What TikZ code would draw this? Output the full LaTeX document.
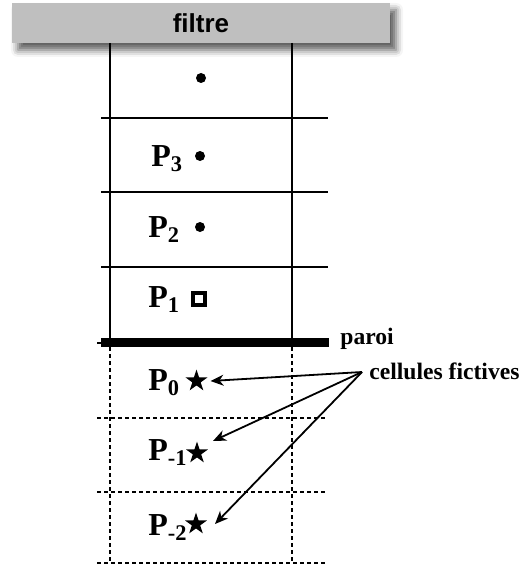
\documentclass[tikz,border=0pt]{standalone}
\usepackage{fontspec}
\setmainfont{Liberation Serif}
\newfontfamily\barfont{Liberation Sans}
\usetikzlibrary{positioning,shapes.geometric,shadows.blur,arrows.meta}

\begin{document}
\begin{tikzpicture}
	[x=0.5pt,y=-0.5pt,>={Stealth[length=6.5pt,width=5.5pt,inset=2pt]},
	bar/.style={rectangle,fill=black!25,minimum width=189pt,minimum height=20pt,inner sep=0pt,
		blur shadow={shadow xshift=3pt,shadow yshift=-3.5pt,shadow blur radius=3.5pt,shadow opacity=65}},
	cell/.style={line width=0.6pt},
	ghost/.style={line width=0.6pt,dash pattern=on 2pt off 1.5pt},
	plabel/.style={anchor=base west,inner sep=0pt,font=\fontsize{16}{18}\selectfont\bfseries},
	dot/.style={circle,fill=black,inner sep=0pt,minimum size=5pt},
	boxmark/.style={rectangle,draw,line width=1.7pt,inner sep=0pt,minimum size=6pt},
	ghoststar/.style={star,star points=5,star point ratio=2.6,fill=black,inner sep=0pt,minimum size=11.5pt},
	tag/.style={anchor=base west,inner sep=0pt,font=\fontsize{11.8}{14}\selectfont\bfseries},
	arrow/.style={->,line width=0.9pt}]
	\useasboundingbox (0,0) rectangle (523,567);

	% filter on top
	\node [bar] (filtre) at (201,23) {\barfont\bfseries\fontsize{13}{15}\selectfont filtre};

	% real cells
	\draw [cell] (110,43) -- (110,338);
	\draw [cell] (292,43) -- (292,338);
	\draw [cell] (101,118) -- (328,118);
	\draw [cell] (101,192) -- (328,192);
	\draw [cell] (101,267) -- (328,267);

	% ghost cells
	\draw [ghost] (97,343) -- (325,343);
	\draw [ghost] (110,347) -- (110,563);
	\draw [ghost] (292,347) -- (292,563);
	\draw [ghost] (97,418) -- (325,418);
	\draw [ghost] (97,492) -- (325,492);
	\draw [ghost] (97,563) -- (325,563);

	% wall
	\fill (101,338) rectangle (329,347);
	\node [tag] (paroi) at (340,344) {paroi};

	\node [dot] (d4) at (201,78) {};
	\node [plabel] (p3) at (151,166) {P\textsubscript{3}};
	\node [dot] (d3) at (200,156) {};
	\node [plabel] (p2) at (148,237) {P\textsubscript{2}};
	\node [dot] (d2) at (200,227) {};
	\node [plabel] (p1) at (148,307) {P\textsubscript{1}};
	\node [boxmark] (b1) at (199,299) {};
	\node [plabel] (p0) at (148,390) {P\textsubscript{0}};
	\node [ghoststar] (s0) at (196.5,381) {};
	\node [plabel] (pm1) at (148,460) {P\textsubscript{-1}};
	\node [ghoststar] (s1) at (197,453) {};
	\node [plabel] (pm2) at (148,535) {P\textsubscript{-2}};
	\node [ghoststar] (s2) at (196,524) {};

	\node [tag] (cf) at (369,379) {cellules fictives};
	\coordinate (hub) at (362,372);

	\draw [arrow] (hub) -- ([xshift=7pt]s0.center);
	\draw [arrow] (hub) -- ([shift={(8pt,6pt)}]s1.center);
	\draw [arrow] (hub) -- ([xshift=9.5pt]s2.center);

\end{tikzpicture}
\end{document}
